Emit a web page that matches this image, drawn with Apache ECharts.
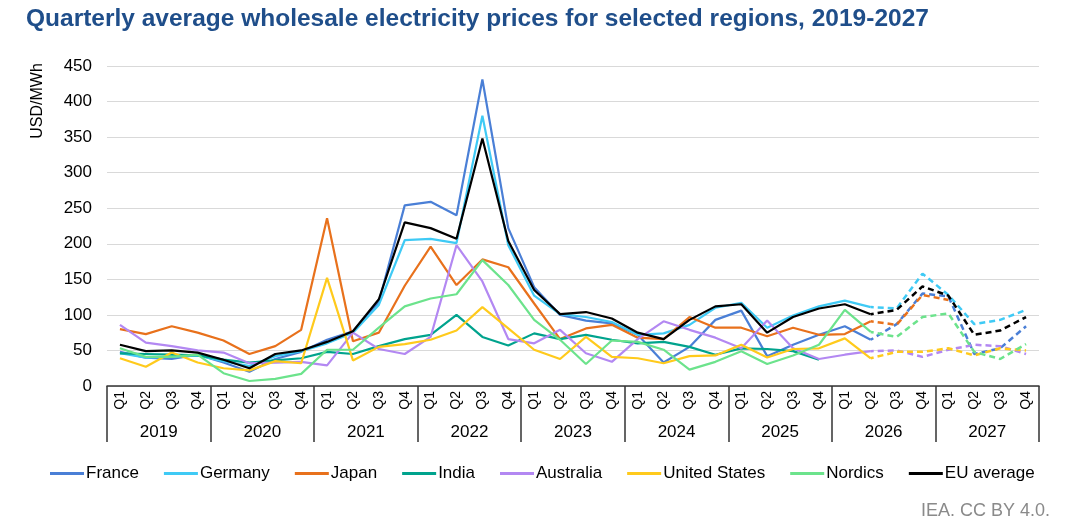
<!DOCTYPE html>
<html lang="en">
<head>
  <meta charset="UTF-8">
  <title>Quarterly average wholesale electricity prices</title>
  <script src="https://cdn.jsdelivr.net/npm/echarts@6/dist/echarts.min.js"></script>
  <style>
    body { margin: 0; background: #fff; }
    #chart { width: 1080px; height: 523px; }
  </style>
</head>
<body>
  <div id="chart"></div>
  <script>
    // categories
    const years = ['2019', '2020', '2021', '2022', '2023', '2024', '2025', '2026', '2027'];
    const quarters = ['Q1', 'Q2', 'Q3', 'Q4'];
    const yTicks = [0, 50, 100, 150, 200, 250, 300, 350, 400, 450];

    // actuals, 2019 Q1 .. 2026 Q2 (USD/MWh)
    const france = [48, 40, 38, 44, 33, 20, 38, 48, 65, 77, 118, 254, 259, 240, 431, 222, 139, 100, 92, 88, 72, 33, 55, 93, 106, 42, 58, 72, 84, 65];
    const germany = [46, 40, 41, 43, 35, 28, 42, 49, 60, 75, 114, 205, 207, 201, 380, 198, 127, 101, 97, 90, 72, 74, 86, 110, 117, 82, 99, 112, 120, 111];
    const japan = [80, 73, 84, 75, 64, 45, 56, 79, 236, 63, 75, 141, 196, 142, 178, 167, 116, 66, 81, 86, 68, 66, 97, 82, 82, 70, 82, 72, 73, 91];
    const india = [46, 45, 44, 43, 37, 33, 36, 39, 48, 45, 56, 66, 72, 100, 69, 57, 74, 66, 72, 65, 60, 62, 55, 44, 53, 52, 49, 37];
    const australia = [86, 61, 56, 50, 47, 32, 33, 34, 29, 75, 52, 45, 69, 198, 147, 66, 60, 79, 46, 34, 66, 91, 79, 68, 53, 92, 53, 38, 44, 49];
    const unitedStates = [39, 27, 47, 33, 25, 22, 35, 32, 152, 36, 55, 59, 65, 78, 111, 81, 51, 38, 69, 41, 39, 32, 42, 43, 58, 40, 52, 53, 67, 39];
    const nordics = [53, 41, 41, 44, 18, 7, 10, 17, 51, 51, 82, 112, 123, 129, 177, 142, 93, 65, 31, 64, 62, 51, 23, 34, 49, 31, 43, 58, 107, 76];
    const euAverage = [58, 49, 50, 47, 37, 25, 45, 50, 62, 77, 122, 230, 222, 207, 348, 204, 135, 101, 104, 95, 75, 66, 93, 112, 115, 75, 97, 109, 115, 101];

    // forecasts, 2026 Q3 onwards
    const franceF = [87, 130, 126, 45, 53, 84];
    const germanyF = [109, 158, 128, 87, 93, 107];
    const japanF = [86, 128, 121];
    const australiaF = [50, 41, 51, 58, 56, 45];
    const unitedStatesF = [48, 48, 53, 43, 53, 50];
    const nordicsF = [69, 97, 102, 48, 38, 59];
    const euAverageF = [107, 140, 127, 72, 78, 97];

    const regions = [
      { name: 'France', color: '#4a7fd6', actual: france, forecast: franceF },
      { name: 'Germany', color: '#3fcaf5', actual: germany, forecast: germanyF },
      { name: 'Japan', color: '#e8711c', actual: japan, forecast: japanF },
      { name: 'India', color: '#00a38d', actual: india, forecast: [] },
      { name: 'Australia', color: '#b388f2', actual: australia, forecast: australiaF },
      { name: 'United States', color: '#ffca1c', actual: unitedStates, forecast: unitedStatesF },
      { name: 'Nordics', color: '#6ce38c', actual: nordics, forecast: nordicsF },
      { name: 'EU average', color: '#000000', actual: euAverage, forecast: euAverageF }
    ];

    const categories = [];
    years.forEach(y => quarters.forEach(q => categories.push(q + ' ' + y)));

    const series = [];
    regions.forEach(r => {
      series.push({
        name: r.name,
        type: 'line',
        data: r.actual,
        symbol: 'none',
        lineStyle: { color: r.color, width: 2.2 },
        itemStyle: { color: r.color },
        z: 2
      });
      if (r.forecast.length) {
        // dashed part joins on the last actual quarter
        const last = r.actual.length - 1;
        const data = new Array(last).fill(null).concat([r.actual[last]], r.forecast);
        series.push({
          name: r.name,
          type: 'line',
          data: data,
          symbol: 'none',
          lineStyle: { color: r.color, width: 2.5, type: [6, 4], dashOffset: 3 },
          itemStyle: { color: r.color },
          z: 2
        });
      }
    });

    const chart = echarts.init(document.getElementById('chart'));
    chart.setOption({
      animation: false,
      textStyle: { fontFamily: 'Liberation Sans, Arial, sans-serif' },
      title: {
        text: 'Quarterly average wholesale electricity prices for selected regions, 2019-2027',
        left: 21,
        top: 2,
        textStyle: { color: '#1f4e8a', fontSize: 24.5, fontWeight: 'bold' }
      },
      tooltip: { trigger: 'axis' },
      legend: {
        data: regions.map(r => r.name),
        bottom: 36,
        left: 45,
        icon: 'rect',
        itemWidth: 34,
        itemHeight: 3,
        itemGap: 25,
        textStyle: { fontSize: 17, color: '#000', padding: [0, 0, 0, -3] }
      },
      grid: { left: 107, right: 41, top: 66, bottom: 137 },
      xAxis: [
        {
          type: 'category',
          data: categories,
          boundaryGap: true,
          axisLine: { lineStyle: { color: '#333', width: 1.5 } },
          axisTick: { show: false },
          axisLabel: {
            interval: 0,
            rotate: 90,
            margin: 5,
            fontSize: 14,
            color: '#000',
            formatter: v => v.split(' ')[0]
          }
        },
        {
          type: 'category',
          data: years,
          position: 'bottom',
          boundaryGap: true,
          axisLine: { show: false },
          axisTick: { show: true, interval: 0, length: 56, lineStyle: { color: '#333', width: 1.5 } },
          axisLabel: { interval: 0, margin: 38, fontSize: 17, color: '#000' },
          splitLine: { show: false }
        }
      ],
      yAxis: {
        type: 'value',
        min: yTicks[0],
        max: yTicks[yTicks.length - 1],
        interval: 50,
        axisLine: { show: false },
        axisTick: { show: false },
        axisLabel: { margin: 15, fontSize: 17, color: '#000' },
        splitLine: { lineStyle: { color: '#d9d9d9', width: 1 } }
      },
      graphic: [
        {
          type: 'text',
          x: 38,
          y: 101,
          rotation: Math.PI / 2,
          style: {
            text: 'USD/MWh',
            fontSize: 16,
            fill: '#000',
            align: 'center',
            verticalAlign: 'middle',
            fontFamily: 'Liberation Sans, Arial, sans-serif'
          }
        },
        {
          type: 'text',
          right: 30,
          bottom: 3,
          style: {
            text: 'IEA. CC BY 4.0.',
            fontSize: 18,
            fill: '#8a8a8a',
            fontFamily: 'Liberation Sans, Arial, sans-serif'
          }
        }
      ],
      series: series
    });
  </script>
</body>
</html>
